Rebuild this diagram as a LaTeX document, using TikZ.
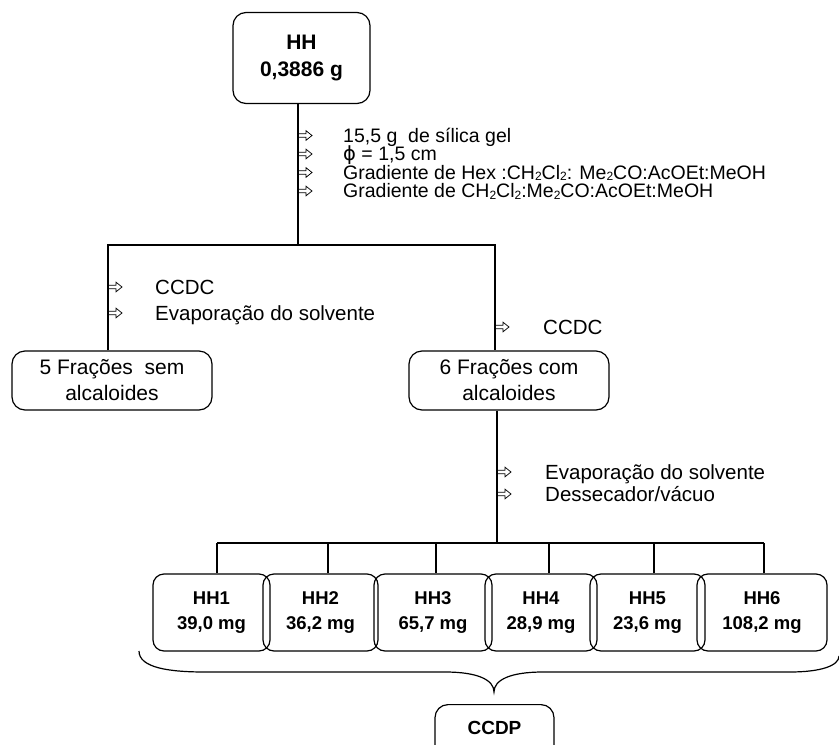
\documentclass[tikz,border=0pt]{standalone}
\usepackage{fontspec}
\setmainfont{Liberation Sans}
\newfontfamily\symfont{DejaVu Sans}
% small lowered index for the formulas
\newcommand\ix[1]{\raisebox{-1.8pt}{\fontsize{12}{12}\selectfont #1}}
\begin{document}
\begin{tikzpicture}[x=1pt,y=-1pt,
  box/.style={draw, line width=1.2pt, rounded corners=13pt, inner sep=0pt, align=center},
  wire/.style={line width=1.2pt},
  note/.style={anchor=base west, inner sep=0pt, font=\fontsize{20.5}{20.5}\selectfont},
  topnote/.style={note, font=\fontsize{19.5}{19.5}\selectfont},
  frac/.style={box, minimum width=200pt, minimum height=59pt, font=\fontsize{21}{26}\selectfont},
  sample/.style={box, minimum height=77pt, rounded corners=11pt, font=\bfseries\fontsize{18.5}{25}\selectfont},
  openarrow/.pic={\draw[line width=0.75pt, line join=miter]
      (0,-1.7) -- (8,-1.7) -- (8,-4.8) -- (14,0) -- (8,4.8) -- (8,1.7) -- (0,1.7);}]
\useasboundingbox (0,0) rectangle (839,745);
\clip (0,0) rectangle (839,745);

% extract
\node[box, minimum width=137pt, minimum height=91pt, font=\bfseries\fontsize{21}{27}\selectfont] (hh) at (301.5,58) {HH\\0,3886 g};

% column conditions
\node[topnote] (c1) at (343,142) {15,5 g\ \ de sílica gel};
\node[topnote] (c2) at (343,160.5) {{\symfont ϕ} = 1,5 cm};
\node[topnote] (c3) at (343,179) {Gradiente de Hex :CH\ix{2}Cl\ix{2}: Me\ix{2}CO:AcOEt:MeOH};
\node[topnote] (c4) at (343,197.5) {Gradiente de CH\ix{2}Cl\ix{2}:Me\ix{2}CO:AcOEt:MeOH};
\foreach \y in {142,160.5,179,197.5} \pic at (298,\y-6.5) {openarrow};

% fraction groups
\node[frac] (f5) at (112,380.5) {5 Frações\ \ sem\\alcaloides};
\node[frac] (f6) at (509,380.5) {6 Frações com\\alcaloides};

\coordinate (jt) at (298,245);
\coordinate (jl) at (108,245);
\coordinate (jr) at (495,245);
\draw[wire] (hh.south -| jt) -- (jt);
\draw[wire] (f5.north -| jl) -- (jl) -- (jr) -- (f6.north -| jr);

\node[note] (l1) at (155,294) {CCDC};
\node[note] (l2) at (155,320) {Evaporação do solvente};
\node[note] (r1) at (543,334) {CCDC};
\foreach \x/\y in {108/294,108/320,495/334} \pic at (\x,\y-7) {openarrow};

% purified fractions
\node[note] (b1) at (545,479) {Evaporação do solvente};
\node[note] (b2) at (545,501) {Dessecador/vácuo};
\foreach \y in {479,501} \pic at (497,\y-7) {openarrow};

\node[sample, minimum width=117pt] (s1) at (211.5,612.5) {HH1\\39,0 mg};
\node[sample, minimum width=115pt] (s2) at (320.5,612.5) {HH2\\36,2 mg};
\node[sample, minimum width=118pt] (s3) at (433,612.5) {HH3\\65,7 mg};
\node[sample, minimum width=112pt] (s4) at (541,612.5) {HH4\\28,9 mg};
\node[sample, minimum width=115pt] (s5) at (647.5,612.5) {HH5\\23,6 mg};
\node[sample, minimum width=130pt] (s6) at (762,612.5) {HH6\\108,2 mg};

\coordinate (jb) at (497,543);
\coordinate (d1) at (217,543);
\coordinate (d2) at (328,543);
\coordinate (d3) at (436,543);
\coordinate (d4) at (549,543);
\coordinate (d5) at (654,543);
\coordinate (d6) at (764,543);
\draw[wire] (f6.south -| jb) -- (jb);
\draw[wire] (d1) -- (d6);
\foreach \i in {1,...,6} \draw[wire] (d\i) -- (s\i.north -| d\i);

% brace gathering the six fractions
\draw[wire] (139,651) .. controls (139,668) and (170,672) .. (205,672)
  -- (445,672) .. controls (478,672) and (494,680) .. (494,692)
  .. controls (494,680) and (510,672) .. (543,672)
  -- (790,672) .. controls (820,672) and (839,666) .. (839,656);

% final step, its box running past the lower edge
\node[box, minimum width=119pt, minimum height=80pt, anchor=north] (cc) at (494.5,704) {};
\node[font=\bfseries\fontsize{19}{19}\selectfont, inner sep=0pt] (cct) at (494.5,728) {CCDP};
\end{tikzpicture}
\end{document}
